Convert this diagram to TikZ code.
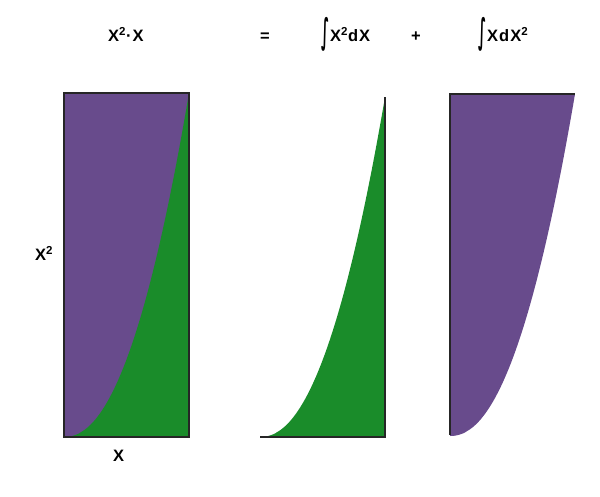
\documentclass[tikz,border=0pt]{standalone}
\usepackage{fontspec}
\usepackage{graphicx}
\setmainfont{Liberation Sans}
\newfontfamily\dejavu{DejaVu Sans}
\definecolor{myPurple}{RGB}{104,75,140}
\definecolor{myGreen}{RGB}{26,140,42}
\newcommand\sqd{\textsuperscript{2}}
% convex curve: x = 125 t, h = H t^2.15
\newcommand\crv[1]{plot[domain=0:1,samples=90] ({125*\x},{-#1*pow(\x,2.15)})}
\begin{document}
\begin{tikzpicture}[x=1pt,y=-1pt,
  lbl/.style={font=\bfseries\fontsize{16.5}{18}\selectfont\addfontfeature{LetterSpace=6}, inner sep=0pt, anchor=base west},
  sym/.style={font=\bfseries\fontsize{16.5}{18}\selectfont, inner sep=0pt, anchor=base},
  intg/.style={inner sep=0pt, anchor=center},
  edge/.style={draw=black!85, line width=1.2pt}]
\useasboundingbox (0,0) rectangle (600,497);
% left rectangle
\fill[myPurple] (64,93) rectangle (189,437);
\begin{scope}[shift={(64,437)}]
  \fill[myGreen] \crv{344} -- (125,0) -- cycle;
\end{scope}
\draw[edge] (64,93) rectangle (189,437);
% middle green
\begin{scope}[shift={(260,437)}]
  \fill[myGreen] \crv{340} -- (125,0) -- cycle;
\end{scope}
\draw[edge] (260,437) -- (385,437) -- (385,97);
% right purple
\begin{scope}[shift={(450,436)}]
  \fill[myPurple] \crv{342} -- (0,-342) -- cycle;
\end{scope}
\draw[edge] (450,435) -- (450,94) -- (575,94);
% texts
\node[lbl] (t1) at (108,42) {X\sqd·X};
\node[sym] (t2) at (265,42) {=};
\node[intg] (i1) at (325,34) {\resizebox*{8pt}{34pt}{\dejavu\bfseries ∫}};
\node[lbl] (t3) at (330,42) {X\sqd dX};
\node[sym] (t4) at (416,42) {+};
\node[intg] (i2) at (482,34) {\resizebox*{8pt}{34pt}{\dejavu\bfseries ∫}};
\node[lbl] (t5) at (487,42) {XdX\sqd};
\node[lbl] (ly) at (35,261) {X\sqd};
\node[lbl] (lx) at (113,461) {X};
\end{tikzpicture}
\end{document}
